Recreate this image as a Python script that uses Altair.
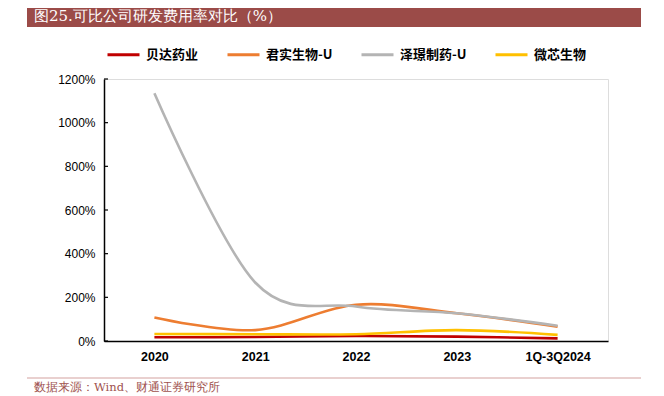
import altair as alt
import pandas as pd

years = ["2020", "2021", "2022", "2023", "1Q-3Q2024"]
series_names = ["贝达药业", "君实生物-U", "泽璟制药-U", "微芯生物"]
beida = [17, 18, 23, 20, 12]
junshi = [108, 50, 166, 127, 66]
zejing = [1135, 268, 158, 127, 70]
weixin = [32, 31, 31, 50, 28]
colors = ["#C00000", "#ED7D31", "#B4B4B4", "#FFC000"]
y_ticks = [0, 200, 400, 600, 800, 1000, 1200]

title_text = "图25.可比公司研发费用率对比（%）"
source_text = "数据来源：Wind、财通证券研究所"

rows = []
for name, vals in zip(series_names, [beida, junshi, zejing, weixin]):
    for yr, v in zip(years, vals):
        rows.append({"year": yr, "series": name, "value": v})
df = pd.DataFrame(rows)

W, H = 504, 262

xenc = alt.X("year:N", sort=years, title=None,
             scale=alt.Scale(type="point", padding=0.5),
             axis=alt.Axis(domainColor="#000000", domainWidth=1.5, ticks=False,
                           labelFont="Liberation Sans", labelFontSize=12.5,
                           labelFontWeight="bold", labelColor="#000000",
                           labelPadding=9, labelAngle=0, grid=False))
yscale = alt.Scale(domain=[0, 1200], nice=False)

lines = alt.Chart(df).mark_line(interpolate="cardinal", strokeWidth=2.6).encode(
    x=xenc,
    y=alt.Y("value:Q", title=None, scale=yscale,
            axis=alt.Axis(values=y_ticks, labelExpr="datum.value + '%'",
                          domainColor="#000000", domainWidth=1.5, tickSize=0,
                          labelFont="Liberation Sans", labelFontSize=12,
                          labelColor="#000000", labelPadding=9, grid=False)),
    color=alt.Color("series:N", sort=series_names,
                    scale=alt.Scale(domain=series_names, range=colors),
                    legend=alt.Legend(title=None, orient="none", direction="horizontal",
                                      legendX=2, legendY=-42,
                                      symbolType="stroke", symbolSize=1024,
                                      symbolStrokeWidth=3, labelFont="Noto Sans CJK SC",
                                      labelFontSize=13, labelFontWeight="bold",
                                      labelColor="#000000", labelOffset=5,
                                      columnPadding=22)),
    order=alt.Order("series:N", sort="ascending"),
)

tick_df = pd.DataFrame({"t": y_ticks})
ticks = alt.Chart(tick_df).mark_rule(color="#000000", strokeWidth=1.2).encode(
    y=alt.Y("t:Q", scale=yscale), x=alt.value(0), x2=alt.value(4))

one = pd.DataFrame({"a": [0]})
bar = alt.Chart(one).mark_rect(color="#9B4B48").encode(
    x=alt.value(-77), x2=alt.value(537), y=alt.value(-74), y2=alt.value(-52))
title = alt.Chart(one).mark_text(align="left", baseline="middle", color="#FFFFFF",
                                 font="DejaVu Serif", fontSize=15).encode(
    x=alt.value(-70), y=alt.value(-63), text=alt.value(title_text))
foot_line = alt.Chart(one).mark_rule(color="#D4A29F", strokeWidth=1.2).encode(
    x=alt.value(-77), x2=alt.value(537), y=alt.value(299))
foot = alt.Chart(one).mark_text(align="left", baseline="middle", color="#A0524E",
                                font="DejaVu Serif", fontSize=11.5).encode(
    x=alt.value(-70), y=alt.value(309), text=alt.value(source_text))

chart = alt.layer(bar, title, foot_line, foot, ticks, lines).properties(
    width=W, height=H,
    autosize=alt.AutoSizeParams(type="none"),
    padding={"left": 96, "top": 71, "right": 40, "bottom": 52},
).configure_view(stroke=None).configure(background="#FFFFFF")

chart.save("out.html", embed_options={"renderer": "svg", "actions": False})
